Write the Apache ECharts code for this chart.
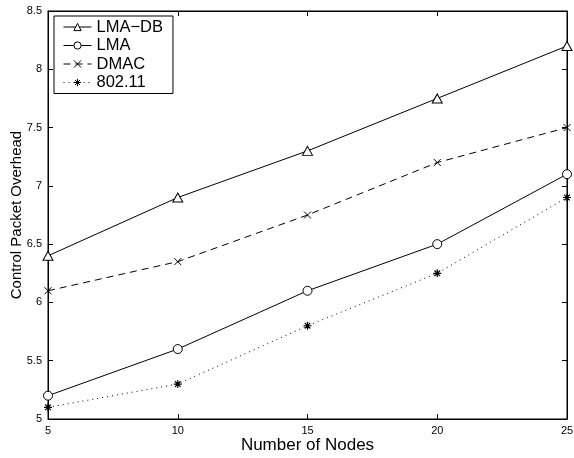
<!DOCTYPE html>
<html>
<head>
    <meta charset="UTF-8">
    <title>Control Packet Overhead</title>
    <script src="https://cdn.jsdelivr.net/npm/echarts@6/dist/echarts.min.js"></script>
    <style>
        html, body { margin: 0; padding: 0; background: #fff; }
        #chart { width: 574px; height: 458px; }
    </style>
</head>
<body>
    <div id="chart"></div>
    <script>
        var nodes = [5, 10, 15, 20, 25];
        var lmaDb = [6.4, 6.9, 7.3, 7.75, 8.2];
        var lma = [5.2, 5.6, 6.1, 6.5, 7.1];
        var dmac = [6.1, 6.35, 6.75, 7.2, 7.5];
        var dot11 = [5.1, 5.3, 5.8, 6.25, 6.9];

        function pairs(ys) {
            return nodes.map(function (x, i) { return [x, ys[i]]; });
        }

        // thin outlined markers, like the matlab ones
        var triPath = 'path://M5,0L10,9L0,9Z';
        var crossPath = 'path://M0,0L10,10M10,0L0,10';
        var starPath = 'path://M5,0L5,10M0,5L10,5M1.5,1.5L8.5,8.5M8.5,1.5L1.5,8.5';
        var font = 'Liberation Sans, Arial, sans-serif';
        var hollow = { color: '#fff', borderColor: '#000', borderWidth: 1 };
        var stroked = { color: '#000', borderColor: '#000', borderWidth: 1 };

        var chart = echarts.init(document.getElementById('chart'), null, { renderer: 'canvas' });
        chart.setOption({
            animation: false,
            backgroundColor: '#fff',
            textStyle: { fontFamily: font, color: '#000' },
            grid: {
                left: 48, right: 7, top: 11, bottom: 39,
                outerBoundsMode: 'none', containLabel: false,
                show: true, borderColor: '#000', borderWidth: 1
            },
            legend: {
                orient: 'vertical', left: 54, top: 16,
                borderColor: '#000', borderWidth: 1, backgroundColor: '#fff',
                padding: [2, 10, 2, 9], itemGap: 0.5, itemWidth: 28, itemHeight: 9,
                lineStyle: { width: 1 },
                itemStyle: { borderWidth: 1 },
                textStyle: { fontSize: 16.5, lineHeight: 18, fontFamily: font, color: '#000' },
                data: ['LMA\u2212DB', 'LMA', 'DMAC', '802.11']
            },
            xAxis: [{
                type: 'value', min: 5, max: 25, interval: 5,
                name: 'Number of Nodes', nameLocation: 'middle', nameGap: 18,
                nameMoveOverlap: false,
                nameTextStyle: { fontSize: 17, fontFamily: font, color: '#000' },
                axisLine: { lineStyle: { color: '#000' } },
                axisTick: { inside: true, length: 5, lineStyle: { color: '#000' } },
                axisLabel: { fontSize: 11, color: '#000', margin: 6 },
                splitLine: { show: false }
            }, {
                type: 'value', min: 5, max: 25, interval: 5, position: 'top',
                axisLine: { lineStyle: { color: '#000' } },
                axisTick: { inside: true, length: 5, lineStyle: { color: '#000' } },
                axisLabel: { show: false }, splitLine: { show: false }
            }],
            yAxis: [{
                type: 'value', min: 5, max: 8.5, interval: 0.5,
                name: 'Control Packet Overhead', nameLocation: 'middle', nameGap: 24,
                nameMoveOverlap: false,
                nameTextStyle: { fontSize: 15, fontFamily: font, color: '#000' },
                axisLine: { show: true, lineStyle: { color: '#000' } },
                axisTick: { show: true, inside: true, length: 5, lineStyle: { color: '#000' } },
                axisLabel: { fontSize: 11, color: '#000', margin: 6 },
                splitLine: { show: false }
            }, {
                type: 'value', min: 5, max: 8.5, interval: 0.5, position: 'right',
                axisLine: { show: true, lineStyle: { color: '#000' } },
                axisTick: { show: true, inside: true, length: 5, lineStyle: { color: '#000' } },
                axisLabel: { show: false }, splitLine: { show: false }
            }],
            series: [{
                name: 'LMA\u2212DB', type: 'line', data: pairs(lmaDb),
                symbol: triPath, symbolSize: [10, 9],
                lineStyle: { color: '#000', width: 1 },
                itemStyle: hollow
            }, {
                name: 'LMA', type: 'line', data: pairs(lma),
                symbol: 'circle', symbolSize: 9,
                lineStyle: { color: '#000', width: 1 },
                itemStyle: hollow
            }, {
                name: 'DMAC', type: 'line', data: pairs(dmac),
                symbol: crossPath, symbolSize: 7,
                lineStyle: { color: '#000', width: 1, type: [7, 5] },
                itemStyle: stroked
            }, {
                name: '802.11', type: 'line', data: pairs(dot11),
                symbol: starPath, symbolSize: 8,
                lineStyle: { color: '#000', width: 1, type: [1, 4] },
                itemStyle: { color: '#000', borderColor: '#000', borderWidth: 1.2 }
            }]
        });
    </script>
</body>
</html>
